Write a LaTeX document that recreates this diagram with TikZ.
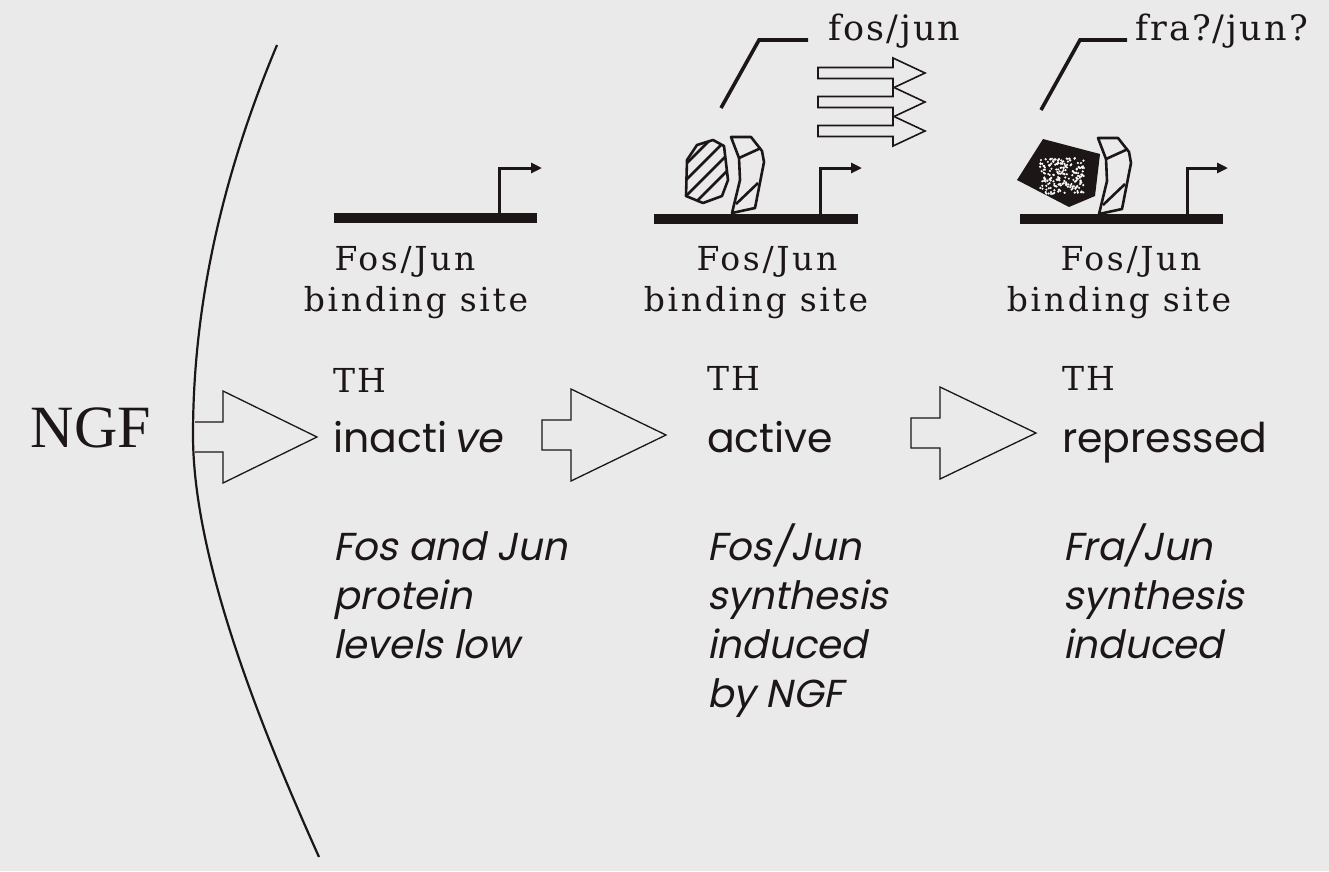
\documentclass[tikz,border=0pt]{standalone}
\usepackage{fontspec}
\setmainfont{Latin Modern Roman}
\usetikzlibrary{arrows.meta}
% slab serif for site labels, factor names and gene name
\newfontfamily\slab[LetterSpace=8]{DejaVu Serif}
\newfontfamily\slabwide[LetterSpace=6]{DejaVu Serif}
\newfontfamily\bigserif{Liberation Serif}
% geometric sans for states and comments
\newfontfamily\geo{Poppins}
\newfontfamily\geoit[FakeSlant=0.2]{Poppins}
\definecolor{paper}{RGB}{234,234,234}
\definecolor{ink}{RGB}{28,22,22}

\tikzset{
  blockarrow/.style={draw=ink, line width=1.3pt, line join=miter, fill=paper},
  smallarrow/.style={draw=ink, line width=1.6pt, fill=paper},
  dnabar/.style={fill=ink},
  promoter/.style={draw=ink, line width=3pt, -{Triangle[length=11pt,width=10pt]}},
  leader/.style={draw=ink, line width=3.6pt, line join=miter},
  protein/.style={draw=ink, line width=2.6pt, line join=round},
  sitelabel/.style={font=\slab\fontsize{33}{36}\selectfont, text=ink, inner sep=0pt, anchor=base},
  factor/.style={font=\slabwide\fontsize{35}{38}\selectfont, text=ink, inner sep=0pt, anchor=base west},
  gene/.style={font=\slabwide\fontsize{33}{36}\selectfont, text=ink, inner sep=0pt, anchor=base west},
  state/.style={font=\geo\fontsize{41}{44}\selectfont, text=ink, inner sep=0pt, anchor=base west},
  desc/.style={font=\geoit\fontsize{39}{44}\selectfont, text=ink, inner sep=0pt, anchor=base west},
}

% block arrow: #2 tail x, #3 head base x, #4 tip x, #5 centre y, #6 shaft half, #7 head half
\newcommand{\blockarr}[7][]{%
  \draw[#1] (#2,#5-#6) -- (#3,#5-#6) -- (#3,#5-#7) -- (#4,#5) -- (#3,#5+#7)
    -- (#3,#5+#6) -- (#2,#5+#6) -- cycle;}

\begin{document}
\begin{tikzpicture}[x=1pt,y=-1pt]
\fill[paper] (0,0) rectangle (1329,871);
\useasboundingbox (0,0) rectangle (1329,871);

% cell boundary
\draw[ink, line width=2.2pt] (277,45) .. controls (212,200) and (193,330) .. (193,435)
  .. controls (193,560) and (262,730) .. (319,857);

\node[font=\bigserif\fontsize{60}{64}\selectfont, text=ink, anchor=base, inner sep=0pt] (ngf) at (91,447) {NGF};

% block arrows between the three states
\draw[blockarrow, fill=none] (195,422) -- (223,422) -- (223,391) -- (317,437)
  -- (223,483) -- (223,452) -- (195,452);
\blockarr[blockarrow]{542}{571}{666}{435}{15}{46}
\blockarr[blockarrow]{911}{940}{1036}{433}{15}{46}

% ---------- panel 1: empty site ----------
\fill[dnabar] (334,213) rectangle (537,223);
\draw[promoter] (499,214) -- (499,168) -- (542,168);
\node[sitelabel] (s1a) at (405,270) {Fos/Jun};
\node[sitelabel] (s1b) at (416,311) {binding site};

% ---------- panel 2: fos/jun bound ----------
\fill[dnabar] (654,214) rectangle (858,224);
\draw[promoter] (820,214) -- (820,168) -- (862,168);
\begin{scope}
  \clip (687,160) -- (697,145) -- (713,140) -- (724,146) -- (728,180) -- (722,196)
    -- (703,203) -- (686,196) -- cycle;
  \foreach \c in {850,866,882,898}
    \draw[ink, line width=2.8pt] (\c-240,240) -- (\c-100,100);
\end{scope}
\draw[protein] (687,160) -- (697,145) -- (713,140) -- (724,146) -- (728,180) -- (722,196)
  -- (703,203) -- (686,196) -- cycle;
\draw[protein, fill=paper] (731,137) -- (751,137) -- (762,151) -- (764,162) -- (755,208)
  -- (732,213) -- (740,180) -- (739,158) -- cycle;
\draw[protein] (739,158) -- (761,148);
\draw[protein] (736,204) -- (758,183);

\coordinate (k2a) at (721,108);
\coordinate (k2b) at (759,40);
\coordinate (k2c) at (808,40);
\draw[leader] (k2a) -- (k2b) -- (k2c);
\node[factor] (fj) at (828,40) {fos/jun};

\blockarr[smallarrow]{818}{893}{925}{73}{5.5}{15}
\blockarr[smallarrow]{818}{893}{925}{102}{5.5}{15}
\blockarr[smallarrow]{818}{893}{925}{131}{5.5}{15}

\node[sitelabel] (s2a) at (767,270) {Fos/Jun};
\node[sitelabel] (s2b) at (756,311) {binding site};

% ---------- panel 3: fra/jun bound ----------
\fill[dnabar] (1020,214) rectangle (1223,224);
\draw[promoter] (1187,214) -- (1187,168) -- (1228,168);
\fill[ink] (1017,180) -- (1043,139) -- (1100,154) -- (1095,196) -- (1069,207) -- cycle;
\begin{scope}
  \clip (1017,180) -- (1043,139) -- (1100,154) -- (1095,196) -- (1069,207) -- cycle;
  \pgfmathsetseed{4172}
  \foreach \i in {1,...,200}
    \fill[white!70!paper] ({1062+22*rand},{176+18*rand}) circle (1.2pt);
\end{scope}
\draw[protein, fill=paper] (1098,138) -- (1118,138) -- (1129,152) -- (1131,163) -- (1122,209)
  -- (1099,214) -- (1107,181) -- (1106,159) -- cycle;
\draw[protein] (1106,159) -- (1128,149);
\draw[protein] (1103,205) -- (1125,184);

\coordinate (k3a) at (1041,110);
\coordinate (k3b) at (1080,40);
\coordinate (k3c) at (1127,40);
\draw[leader] (k3a) -- (k3b) -- (k3c);
\node[factor] (fr) at (1135,40) {fra?/jun?};

\node[sitelabel] (s3a) at (1131,270) {Fos/Jun};
\node[sitelabel] (s3b) at (1119,311) {binding site};

% ---------- states ----------
\node[gene] (th1) at (333,392) {TH};
\node[state] (st1) at (333,452) {inacti\,{\geoit ve}};
\node[gene] (th2) at (707,390) {TH};
\node[state] (st2) at (707,452) {active};
\node[gene] (th3) at (1062,390) {TH};
\node[state] (st3) at (1062,452) {repressed};

% ---------- comments ----------
\node[desc] (d1a) at (333,560) {Fos and Jun};
\node[desc] (d1b) at (333,609) {protein};
\node[desc] (d1c) at (333,658) {levels low};

\node[desc] (d2a) at (707,560) {Fos/Jun};
\node[desc] (d2b) at (707,609) {synthesis};
\node[desc] (d2c) at (707,658) {induced};
\node[desc] (d2d) at (707,707) {by NGF};

\node[desc] (d3a) at (1063,560) {Fra/Jun};
\node[desc] (d3b) at (1063,609) {synthesis};
\node[desc] (d3c) at (1063,658) {induced};
\end{tikzpicture}
\end{document}
